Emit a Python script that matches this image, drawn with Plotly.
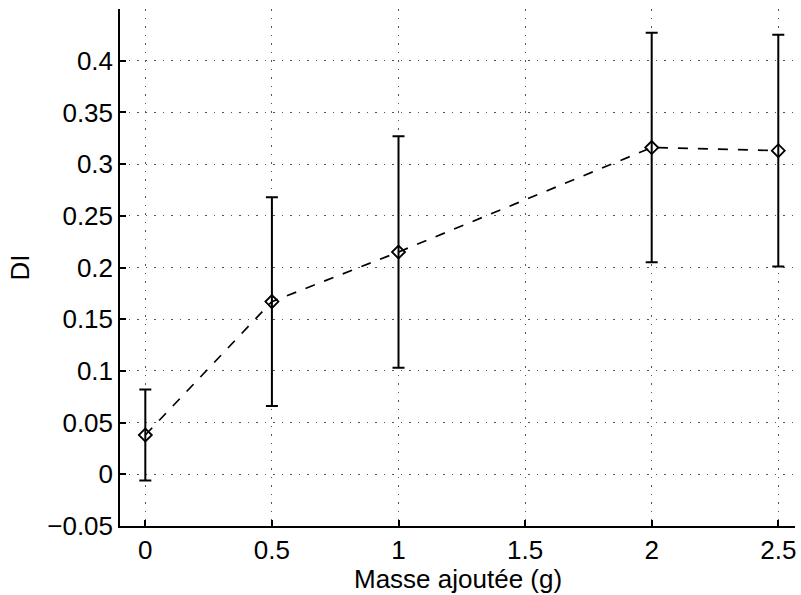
import plotly.graph_objects as go

masse = [0, 0.5, 1, 2, 2.5]
di = [0.038, 0.167, 0.215, 0.316, 0.313]
di_err = [0.044, 0.101, 0.112, 0.111, 0.112]

x_ticks = [0, 0.5, 1, 1.5, 2, 2.5]
x_labels = ["0", "0.5", "1", "1.5", "2", "2.5"]
y_ticks = [-0.05, 0, 0.05, 0.1, 0.15, 0.2, 0.25, 0.3, 0.35, 0.4]
y_labels = ["\u22120.05", "0", "0.05", "0.1", "0.15", "0.2", "0.25", "0.3", "0.35", "0.4"]
x_title = "Masse ajoutée (g)"
y_title = "DI"

fig = go.Figure()
fig.add_trace(go.Scatter(
    x=masse, y=di, mode="lines+markers",
    line=dict(color="black", width=1.7, dash="10px,10px"),
    marker=dict(symbol="diamond-open", size=10, color="black", line=dict(width=1.8)),
    error_y=dict(type="data", array=di_err, visible=True, color="black", thickness=2, width=6),
    showlegend=False,
))

font = dict(family="Liberation Sans, Arial, sans-serif", size=26, color="black")
grid = dict(showgrid=True, gridcolor="#555", griddash="1.5px,7px", gridwidth=1)
fig.update_layout(
    width=801, height=595,
    margin=dict(l=120, r=6, t=9, b=69),
    paper_bgcolor="white", plot_bgcolor="white",
    font=font,
)
fig.add_annotation(
    text=x_title, xref="paper", yref="paper", x=0.5, y=-0.1025,
    xanchor="center", yanchor="middle", showarrow=False, font=font,
)
fig.update_xaxes(
    range=[-0.1, 2.566], tickvals=x_ticks, ticktext=x_labels,
    showline=True, linecolor="black", linewidth=1.5, mirror=False,
    ticks="inside", ticklen=6, tickcolor="black", tickwidth=1.5,
    zeroline=False, tickfont=font, **grid,
)
fig.update_yaxes(
    range=[-0.05, 0.45], tickvals=y_ticks, ticktext=y_labels,
    showline=True, linecolor="black", linewidth=1.5, mirror=False,
    ticks="inside", ticklen=6, tickcolor="black", tickwidth=1.5,
    zeroline=False,
    title=dict(text=y_title, standoff=10, font=font),
    tickfont=font, **grid,
)
fig.write_html(
    "out.html",
    config={"displayModeBar": False},
    post_script="document.body.style.margin='0';document.body.style.overflow='hidden';",
)
